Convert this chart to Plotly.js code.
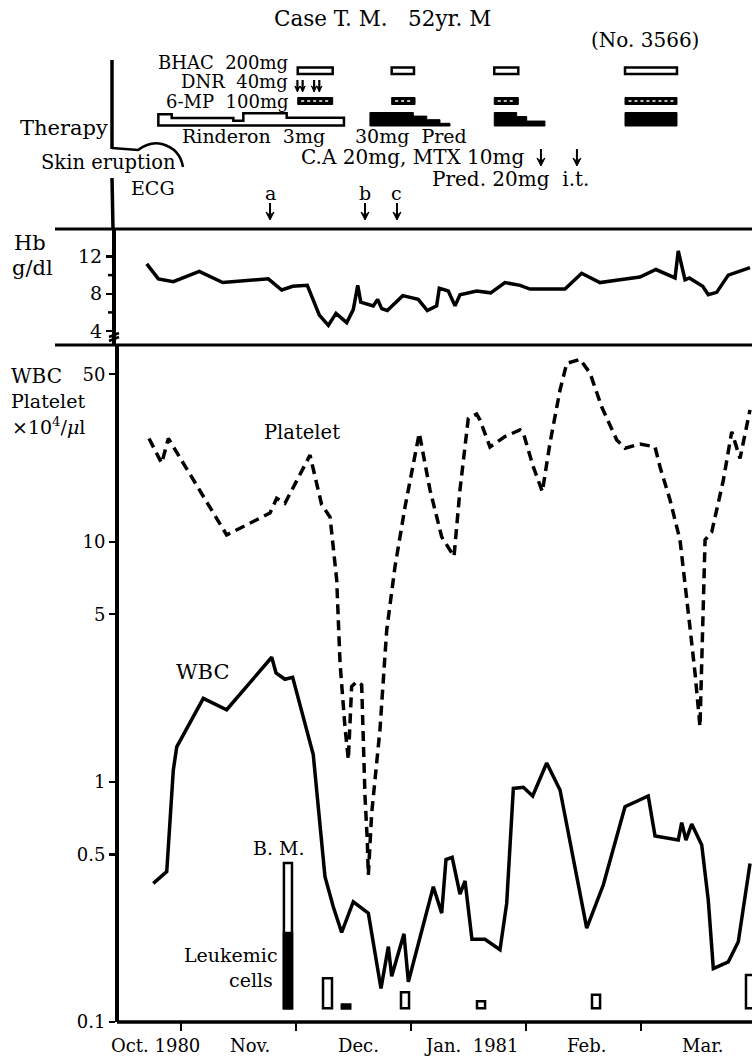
<!DOCTYPE html>
<html><head><meta charset="utf-8">
<script src="https://cdn.plot.ly/plotly-3.0.1.min.js"></script>
<style>html,body{margin:0;padding:0;background:#fff;} #chart{width:752px;height:1056px;}</style>
</head><body><div id="chart"></div>
<script>
// Time axis unit: months after 1 Oct 1980 (1 = 1 Nov, 2 = 1 Dec, 3 = 1 Jan 1981, 4 = 1 Feb, 5 = 1 Mar)
const monthTickVals = [1, 2, 3, 4, 5];
const monthLabels = ['Oct.\u00A01980', 'Nov.', 'Dec.', 'Jan.\u00A0\u00A01981', 'Feb.', 'Mar.'];
const monthLabelPos = [0.78, 1.60, 2.54, 3.53, 4.53, 5.54];

// Hb (g/dl)
const hbX = [0.702,0.803,0.933,1.159,1.363,1.759,1.876,1.971,2.098,2.203,2.281,2.348,2.441,2.498,2.537,2.563,2.672,2.710,2.745,2.794,2.928,3.063,3.142,3.223,3.246,3.324,3.383,3.426,3.571,3.693,3.817,3.948,4.035,4.339,4.484,4.643,4.817,4.991,5.130,5.296,5.324,5.383,5.420,5.537,5.585,5.658,5.759,5.846,5.948];
const hbY = [11.2,9.6,9.3,10.4,9.2,9.6,8.4,8.8,8.9,5.7,4.6,5.9,4.9,6.3,8.9,7.1,6.7,7.4,6.4,6.2,7.8,7.4,6.2,6.7,8.6,8.3,6.7,7.9,8.3,8.1,9.2,8.9,8.5,8.5,10.2,9.2,9.5,9.8,10.6,9.7,12.6,9.5,9.7,8.8,7.9,8.15,10.0,10.4,10.8];

// Platelet (x10^4/ul)
const pltX = [0.722,0.832,0.890,1.397,1.774,1.832,1.904,2.122,2.223,2.296,2.354,2.383,2.426,2.455,2.484,2.528,2.571,2.600,2.620,2.629,2.658,2.730,2.789,2.861,2.948,3.072,3.165,3.267,3.374,3.426,3.498,3.571,3.600,3.687,3.817,3.948,3.977,4.063,4.142,4.209,4.296,4.354,4.470,4.557,4.658,4.789,4.861,4.991,5.122,5.165,5.252,5.281,5.339,5.426,5.470,5.513,5.557,5.615,5.716,5.789,5.861,5.948];
const pltY = [27.0,21.3,27.0,10.7,13.2,15.2,14.5,23.0,14.3,12.7,6.95,3.13,1.69,1.24,2.50,2.62,2.54,0.87,0.57,0.41,0.74,1.65,4.3,7.9,14.0,28.4,16.5,10.5,8.7,16.5,32.7,34.1,32.2,24.9,27.5,29.3,28.4,20.6,16.2,25.9,43.0,55.5,57.7,50.5,36.6,26.6,24.6,25.6,24.9,20.6,15.0,13.2,10.2,4.4,2.84,1.70,10.2,11.0,18.1,28.8,22.3,35.5];

// WBC (x10^4/ul)
const wbcX = [0.759,0.876,0.933,0.963,1.194,1.397,1.789,1.826,1.904,1.971,2.150,2.252,2.324,2.397,2.498,2.629,2.739,2.803,2.832,2.939,2.977,3.194,3.267,3.304,3.358,3.426,3.470,3.530,3.643,3.774,3.832,3.890,3.977,4.058,4.180,4.296,4.528,4.672,4.861,5.063,5.122,5.324,5.354,5.391,5.441,5.528,5.585,5.629,5.759,5.846,5.948];
const wbcY = [0.378,0.423,1.12,1.40,2.23,2.0,3.31,2.85,2.68,2.73,1.30,0.403,0.302,0.236,0.317,0.284,0.138,0.206,0.155,0.233,0.147,0.366,0.284,0.475,0.485,0.341,0.387,0.221,0.221,0.200,0.312,0.94,0.95,0.874,1.20,0.926,0.246,0.372,0.789,0.874,0.596,0.573,0.677,0.573,0.668,0.547,0.322,0.167,0.178,0.216,0.458];

// Bone marrow bars (drawn on the log axis)
const bmX = [1.930, 2.274, 2.435, 2.948, 3.609, 4.609, 5.948];
const bmWidth = [0.07, 0.078, 0.07, 0.07, 0.07, 0.07, 0.07];
const bmTop = [0.46, 0.152, 0.118, 0.133, 0.122, 0.130, 0.157];
const bmBase = 0.114;
const leukX = [1.930, 2.435];
const leukTop = [0.235, 0.118];

const mainTickVals = [0.1, 0.5, 1, 5, 10, 50];
const mainTickText = ['0.1', '0.5', '1', '5', '10', '50'];
const hbTickVals = [4, 8, 12];
const hbTickText = ['4', '8', '12'];
const hbMinorTicks = [6, 10];

// Therapy
const bhacStart = [2.015, 2.832, 3.724, 4.861];
const bhacEnd   = [2.319, 3.026, 3.933, 5.313];
const mpStart = [2.015, 2.832, 3.724, 4.861];
const mpEnd   = [2.319, 3.035, 3.933, 5.313];
const dnrX = [2.035, 2.180];
const rinderonEdges = [0.803, 0.919, 1.455, 1.542, 1.919, 2.417];
const rinderonDose  = [3, 2, 1.25, 3.25, 2.1];
const pred2Edges = [2.643, 3.020, 3.137, 3.252, 3.339];
const pred2Dose  = [30, 22, 14, 6];
const pred3Edges = [3.724, 3.919, 4.006, 4.165];
const pred3Dose  = [30, 21, 11];
const pred4Edges = [4.861, 5.313];
const pred4Dose  = [30];
const itX = [4.130, 4.443];
const ecgX = [1.774, 2.600, 2.878];
const ecgLabels = ['a', 'b', 'c'];

// ---------- layout helpers ----------
const W = 752, H = 1056;
const MONTH_PX = 115;
const px = x => x / W;
const py = y => 1 - y / H;
const FONT = 'DejaVu Serif, Liberation Serif, serif';
const BLACK = '#000';

const traces = [
  {x: hbX, y: hbY, xaxis: 'x', yaxis: 'y2', type: 'scatter', mode: 'lines',
   line: {color: BLACK, width: 3.5}, hoverinfo: 'skip'},
  {x: pltX, y: pltY, xaxis: 'x', yaxis: 'y', type: 'scatter', mode: 'lines',
   line: {color: BLACK, width: 3.5, dash: '10px,6px'}, hoverinfo: 'skip'},
  {x: wbcX, y: wbcY, xaxis: 'x', yaxis: 'y', type: 'scatter', mode: 'lines',
   line: {color: BLACK, width: 3.5}, hoverinfo: 'skip'},
  {x: bmX, y: bmTop.map(v => v - bmBase), base: bmBase, width: bmWidth, type: 'bar',
   xaxis: 'x', yaxis: 'y', marker: {color: '#fff', line: {color: BLACK, width: 2.5}}, hoverinfo: 'skip'},
  {x: leukX, y: leukTop.map(v => v - bmBase), base: bmBase, width: [0.07, 0.07], type: 'bar',
   xaxis: 'x', yaxis: 'y', marker: {color: BLACK, line: {color: BLACK, width: 2.5}}, hoverinfo: 'skip'}
];

const shapes = [];
const line = (x0, y0, x1, y1, w) => shapes.push({type: 'line', xref: 'paper', yref: 'paper',
  x0: px(x0), y0: py(y0), x1: px(x1), y1: py(y1), line: {color: BLACK, width: w}});
line(55, 229, 752, 229, 3);
line(55, 345, 752, 345, 3);
line(117, 1022, 752, 1022, 3.5);
line(112, 60, 112, 149, 3.5);
line(112, 178, 113, 229, 3.5);
// Hb minor ticks, placed through the Hb axis scale
hbMinorTicks.forEach(v => shapes.push({type: 'line', xref: 'paper', yref: 'y2',
  x0: px(108), x1: px(114), y0: v, y1: v, line: {color: BLACK, width: 2.5}}));
// skin eruption bracket
shapes.push({type: 'path', xref: 'paper', yref: 'paper',
  path: `M ${px(112)},${py(148)} L ${px(138)},${py(150)} Q ${px(150)},${py(141)} ${px(162)},${py(144)} Q ${px(180)},${py(149)} ${px(183)},${py(167)}`,
  line: {color: BLACK, width: 2.5}});
// axis break marks
shapes.push({type: 'path', xref: 'paper', yref: 'paper',
  path: `M ${px(109)},${py(337)} L ${px(119)},${py(333)} M ${px(109)},${py(341)} L ${px(119)},${py(337)}`,
  line: {color: BLACK, width: 2.5}});

// down arrows at data x positions
function downArrow(xm, yTop, yTip, halfW = 4, headLen = 8, lw = 2) {
  const dx = halfW / MONTH_PX;
  shapes.push({type: 'line', xref: 'x', yref: 'paper', x0: xm, x1: xm, y0: py(yTop), y1: py(yTip - headLen / 2),
    line: {color: BLACK, width: lw}});
  shapes.push({type: 'path', xref: 'x', yref: 'paper',
    path: `M ${xm - dx},${py(yTip - headLen)} L ${xm},${py(yTip)} L ${xm + dx},${py(yTip - headLen)} L ${xm},${py(yTip - headLen * 0.6)} Z`,
    fillcolor: BLACK, line: {color: BLACK, width: 1}});
}
ecgX.forEach(x => downArrow(x, 203, 220));
itX.forEach(x => downArrow(x, 149, 166));
// DNR double arrows
const dnrOff = 2.6 / MONTH_PX;
dnrX.forEach(x => { downArrow(x - dnrOff, 80, 92, 2.6, 6, 2.2); downArrow(x + dnrOff, 80, 92, 2.6, 6, 2.2); });

// therapy bars (x in data months, y in page rows)
bhacStart.forEach((s, i) => shapes.push({type: 'rect', xref: 'x', yref: 'paper',
  x0: s, x1: bhacEnd[i], y0: py(74), y1: py(67.5), fillcolor: '#fff', line: {color: BLACK, width: 2.5}}));
mpStart.forEach((s, i) => {
  shapes.push({type: 'rect', xref: 'x', yref: 'paper', x0: s, x1: mpEnd[i], y0: py(104.5), y1: py(97.5),
    fillcolor: BLACK, line: {color: BLACK, width: 1}});
  shapes.push({type: 'line', xref: 'x', yref: 'paper', x0: s + 0.03, x1: mpEnd[i] - 0.03, y0: py(101), y1: py(101),
    line: {color: '#fff', width: 1.5, dash: '3px,3px'}});
});
function stepPath(edges, dose, basePx, scale) {
  let d = `M ${edges[0]},${py(basePx)}`;
  for (let i = 0; i < dose.length; i++) {
    const t = py(basePx - dose[i] * scale);
    d += ` L ${edges[i]},${t} L ${edges[i + 1]},${t}`;
  }
  d += ` L ${edges[edges.length - 1]},${py(basePx)} Z`;
  return d;
}
shapes.push({type: 'path', xref: 'x', yref: 'paper', path: stepPath(rinderonEdges, rinderonDose, 125.5, 3.75),
  fillcolor: '#fff', line: {color: BLACK, width: 2.5}});
[[pred2Edges, pred2Dose], [pred3Edges, pred3Dose], [pred4Edges, pred4Dose]].forEach(([e, d]) =>
  shapes.push({type: 'path', xref: 'x', yref: 'paper', path: stepPath(e, d, 126, 0.45),
    fillcolor: BLACK, line: {color: BLACK, width: 1}}));

const annotations = [];
const txt = (text, x, y, xanchor = 'center', size = 19, extra = {}) => annotations.push(Object.assign({
  text, x: px(x), y: py(y), xref: 'paper', yref: 'paper', xanchor, yanchor: 'middle', showarrow: false,
  borderpad: 0, font: {family: FONT, size, color: BLACK}}, extra));
txt('Case\u00A0T.\u00A0M.\u00A0\u00A0\u00A052yr.\u00A0M', 382, 18, 'center', 21.5);
txt('(No.\u00A03566)', 645, 40, 'center', 20);
txt('BHAC\u00A0\u00A0200mg', 289, 62, 'right', 18);
txt('DNR\u00A0\u00A040mg', 289, 82, 'right', 18);
txt('6-MP\u00A0\u00A0100mg', 289, 102, 'right', 18);
txt('Therapy', 64, 128, 'center', 21);
txt('Rinderon\u00A0\u00A03mg', 253, 136);
txt('30mg\u00A0\u00A0Pred', 411, 136);
txt('Skin\u00A0eruption', 108, 163, 'center', 19.5);
txt('C.A\u00A020mg,\u00A0MTX\u00A010mg', 413, 157, 'center', 20);
txt('Pred.\u00A020mg\u00A0\u00A0i.t.', 510, 179, 'center', 20);
txt('ECG', 153, 188);
txt('Hb', 30, 243, 'center', 21);
txt('g/dl', 32, 268, 'center', 21);
txt('WBC', 10, 376, 'left', 20);
txt('Platelet', 10, 401, 'left', 19);
txt('\u00D710<sup>4</sup>/<i>\u03BC</i>l', 11, 426, 'left', 19);
txt('Platelet', 302, 432, 'center', 19.5);
txt('WBC', 202, 672, 'center', 21);
txt('B.\u00A0M.', 279, 848);
txt('Leukemic', 279, 955, 'right');
txt('cells', 251, 980);

ecgX.forEach((x, i) => annotations.push({text: ecgLabels[i], x, y: py(193), xref: 'x', yref: 'paper',
  showarrow: false, xanchor: 'center', yanchor: 'middle', borderpad: 0, font: {family: FONT, size: 19, color: BLACK}}));
monthLabels.forEach((t, i) => annotations.push({text: t, x: monthLabelPos[i], y: py(1045), xref: 'x', yref: 'paper',
  showarrow: false, xanchor: 'center', yanchor: 'middle', borderpad: 0, font: {family: FONT, size: 18, color: BLACK}}));

const layout = {
  width: W, height: H, margin: {l: 0, r: 0, t: 0, b: 0},
  paper_bgcolor: '#fff', plot_bgcolor: 'rgba(0,0,0,0)', showlegend: false, barmode: 'overlay',
  font: {family: FONT, size: 18, color: BLACK},
  xaxis: {domain: [0, 1], range: [-66 / MONTH_PX, 686 / MONTH_PX], anchor: 'y', showgrid: false, zeroline: false,
    showline: false, ticks: 'outside', tickvals: monthTickVals, ticklen: 8, tickwidth: 2.5, tickcolor: BLACK,
    showticklabels: false, fixedrange: true},
  yaxis: {domain: [py(1022), py(345)], type: 'log', range: [-1, 1.8208], anchor: 'free', position: px(117),
    showgrid: false, zeroline: false, showline: true, linewidth: 4, linecolor: BLACK, ticks: 'outside',
    ticklen: 6, tickwidth: 2.5, tickcolor: BLACK, tickvals: mainTickVals, ticktext: mainTickText,
    tickfont: {family: FONT, size: 18, color: BLACK}, fixedrange: true},
  yaxis2: {domain: [py(345), py(229)], range: [2.50, 14.95], anchor: 'free', position: px(114),
    showgrid: false, zeroline: false, showline: true, linewidth: 4, linecolor: BLACK, ticks: 'outside',
    ticklen: 6, tickwidth: 2.5, tickcolor: BLACK, tickvals: hbTickVals, ticktext: hbTickText,
    tickfont: {family: FONT, size: 19, color: BLACK}, fixedrange: true},
  shapes, annotations
};

Plotly.newPlot('chart', traces, layout, {staticPlot: true, displayModeBar: false});
</script></body></html>
